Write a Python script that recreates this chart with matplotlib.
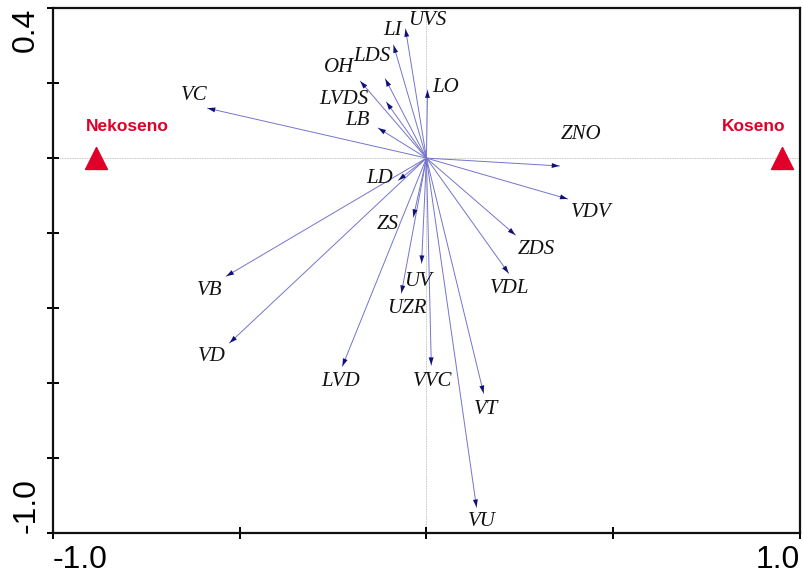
import numpy as np
import matplotlib
matplotlib.use("Agg")
import matplotlib.pyplot as plt

# Species / variable scores (axis 1, axis 2)
names = ["UVS", "LI", "LDS", "OH", "LVDS", "LB", "LO", "LD", "VC", "ZNO",
         "VDV", "ZDS", "VDL", "VVC", "VT", "VU", "UV", "ZS", "UZR", "VB",
         "VD", "LVD"]
ax1 = [-0.056, -0.088, -0.110, -0.177, -0.107, -0.129, 0.003, -0.075, -0.586, 0.356,
       0.378, 0.238, 0.220, 0.013, 0.153, 0.134, -0.013, -0.035, -0.067, -0.536,
       -0.527, -0.225]
ax2 = [0.344, 0.301, 0.211, 0.205, 0.149, 0.080, 0.181, -0.059, 0.133, -0.021,
       -0.109, -0.205, -0.307, -0.552, -0.627, -0.931, -0.280, -0.157, -0.360, -0.315,
       -0.493, -0.555]

# Site classes (centroids)
sites = ["Nekoseno", "Koseno"]
site_x = [-0.884, 0.953]
site_y = [0.0, 0.0]

# Label offsets in pixels relative to arrow tips (layout only)
label_off = {
    "UVS": (22, 9), "LI": (-1, 15), "LDS": (-13, 22), "OH": (-21, 14),
    "LVDS": (-43, 3), "LB": (-21, 8), "LO": (18, 3), "LD": (-19, 2),
    "VC": (-13, 13), "ZNO": (22, 31), "VDV": (24, -14), "ZDS": (21, -15),
    "VDL": (1, -15), "VVC": (1, -16), "VT": (3, -16), "VU": (5, -14),
    "UV": (-4, -18), "ZS": (-26, -8), "UZR": (5, -15), "VB": (-17, -14),
    "VD": (-18, -14), "LVD": (-2, -15),
}
site_off = {"Nekoseno": (31, 32), "Koseno": (-29, 32)}

fig = plt.figure(figsize=(8.04, 5.8), dpi=100)
ax = fig.add_axes([0.0659, 0.081, 0.929, 0.905])
ax.set_xlim(-1.0, 1.0)
ax.set_ylim(-1.0, 0.4)

# Zero reference lines
ax.axhline(0, color="#b0b0b0", lw=0.6, ls=(0, (1, 1)), zorder=0)
ax.axvline(0, color="#b0b0b0", lw=0.6, ls=(0, (1, 1)), zorder=0)

serif = ["Liberation Serif", "DejaVu Serif"]
for n, x, y in zip(names, ax1, ax2):
    ax.plot([0, x], [0, y], color="#7474cc", lw=0.7, zorder=2)
    L = np.hypot(x, y)
    ux, uy = x / L, y / L
    ax.annotate("", xy=(x, y), xytext=(x - 0.01 * ux, y - 0.01 * uy),
                arrowprops=dict(arrowstyle="-|>,head_length=0.55,head_width=0.18",
                                color="#10107a", lw=0, shrinkA=0, shrinkB=0),
                zorder=3)
    dx, dy = label_off[n]
    ax.annotate(n, xy=(x, y), xytext=(dx, dy), textcoords="offset pixels",
                ha="center", va="center", fontsize=15, style="italic",
                family=serif, color="#111111", zorder=4)

# Site triangles
red = "#e0002a"
ax.scatter(site_x, site_y, marker="^", s=250, color=red, zorder=5, clip_on=False)
for s, x, y in zip(sites, site_x, site_y):
    dx, dy = site_off[s]
    ax.annotate(s, xy=(x, y), xytext=(dx, dy), textcoords="offset pixels",
                ha="center", va="center", fontsize=12.5, fontweight="bold",
                family=["Liberation Sans", "DejaVu Sans"], color=red, zorder=5)

# Axes frame and ticks
for sp in ax.spines.values():
    sp.set_linewidth(1.6)
    sp.set_color("#111111")

xt = [-1.0, -0.5, 0.0, 0.5, 1.0]
yt = [-1.0, -0.8, -0.6, -0.4, -0.2, 0.0, 0.2, 0.4]
ax.set_xticks(xt)
ax.set_xticklabels(["-1.0", "", "", "", "1.0"])
ax.set_yticks(yt)
ax.set_yticklabels(["-1.0", "", "", "", "", "", "", "0.4"])
ax.tick_params(direction="inout", length=9, width=1.4, labelsize=23,
               top=False, right=False, pad=4)
for lab in ax.get_xticklabels() + ax.get_yticklabels():
    lab.set_family(["Liberation Sans", "DejaVu Sans"])

xl = ax.get_xticklabels()
xl[0].set_ha("left")
xl[-1].set_ha("right")
yl = ax.get_yticklabels()
for lab in yl:
    lab.set_rotation(90)
    lab.set_ha("right")
yl[0].set_va("bottom")
yl[-1].set_va("top")

fig.savefig("out.png", dpi=100, facecolor="white")
